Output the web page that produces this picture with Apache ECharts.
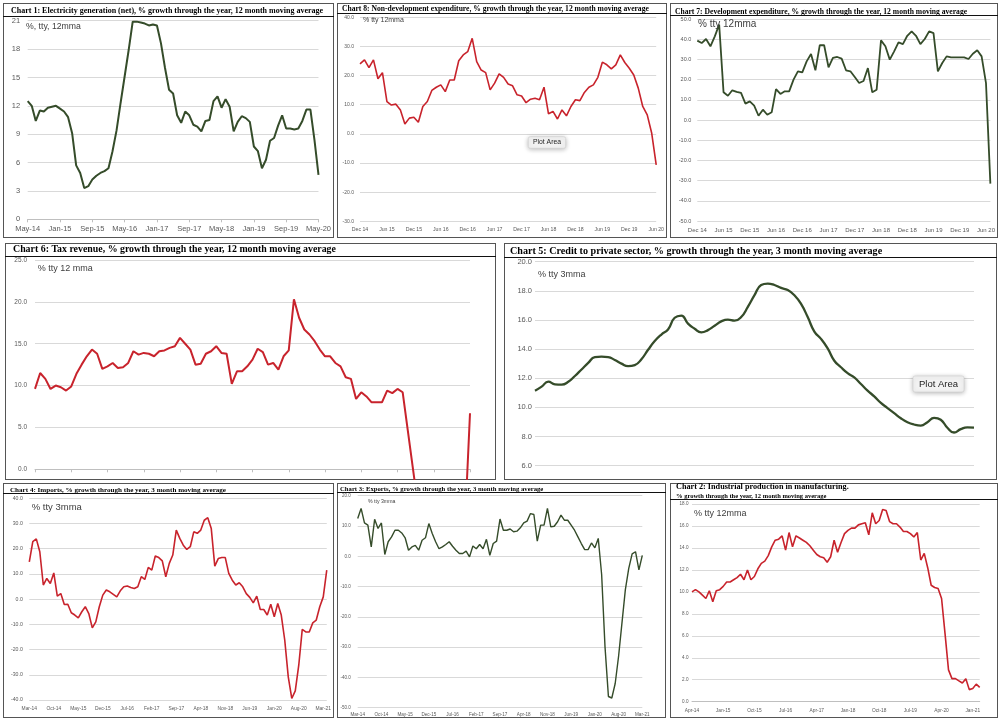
<!DOCTYPE html>
<html><head><meta charset="utf-8">
<script src="https://cdn.jsdelivr.net/npm/echarts/dist/echarts.min.js"></script>
<style>
html,body{margin:0;padding:0;background:#fff;}
body{position:relative;width:1000px;height:720px;overflow:hidden;}
.panel{position:absolute;overflow:hidden;background:#fff;outline:1px solid #555;outline-offset:-1px;}
.rule{position:absolute;left:0;right:0;height:0;border-top:1px solid #111;z-index:5;}
</style></head>
<body>
<script>
// ---------- category helpers (month labels) ----------
const MON = ['Jan','Feb','Mar','Apr','May','Jun','Jul','Aug','Sep','Oct','Nov','Dec'];
function monthLabels(startMon, startYear, count, sep) {
  const out = []; let m = MON.indexOf(startMon), y = startYear;
  for (let i = 0; i < count; i++) {
    out.push(MON[m] + sep + String(y % 100).padStart(2, '0'));
    m++; if (m > 11) { m = 0; y++; }
  }
  return out;
}

// ---------- Chart 1: Electricity generation ----------
const elecCats = monthLabels('May', 2014, 73, '-');
const elecVals = [12.5,12.0,10.4,11.5,11.4,11.8,11.9,12.0,11.7,11.4,
  10.8,9.1,5.7,4.9,3.3,3.5,4.2,4.6,4.9,5.1,
  5.4,7.2,9.4,12.3,15.1,17.9,20.9,20.9,20.8,20.7,
  20.5,20.6,20.5,18.6,16.0,13.7,13.3,11.0,10.2,11.4,
  11.0,10.0,9.8,9.3,10.4,10.5,12.5,13.0,11.8,12.7,
  11.9,9.3,10.3,10.9,10.7,10.3,7.7,7.2,5.4,6.3,
  8.3,8.6,9.9,11.0,9.6,9.6,9.5,9.6,10.4,11.6,
  11.6,8.4,4.7];

// ---------- Chart 8: Non-development expenditure ----------
const nonDevCats = monthLabels('Dec', 2014, 67, ' ');
const nonDevVals = [24.0,25.4,22.7,25.4,18.9,21.0,11.1,9.9,10.2,8.2,
  3.4,5.4,5.7,4.0,9.4,11.1,14.9,16.0,16.8,14.5,
  18.5,18.5,25.1,27.1,28.2,32.8,24.8,21.9,21.0,15.1,
  17.4,20.6,19.4,17.1,16.5,13.4,13.0,10.7,11.9,12.2,
  11.7,16.0,6.9,7.7,5.1,8.2,6.2,9.4,11.7,11.4,
  14.2,16.0,16.8,19.4,24.6,23.7,22.3,23.7,27.1,24.5,
  22.5,20.2,15.7,9.4,6.5,0.2,-10.6];

// ---------- Chart 7: Development expenditure ----------
const devCats = monthLabels('Dec', 2014, 68, ' ');
const devVals = [39.3,38.1,40.1,36.5,41.4,47.2,13.7,12.0,14.7,13.9,
  13.4,8.1,9.2,7.1,2.1,5.1,2.6,3.8,15.3,12.9,
  14.2,14.2,20.0,24.1,23.6,29.0,32.7,24.6,37.1,37.0,
  26.1,30.7,31.2,30.4,24.6,24.1,21.3,18.3,19.3,25.7,
  13.7,15.0,39.4,36.5,29.9,34.0,38.4,37.6,41.7,43.9,
  41.7,37.6,40.1,43.9,43.0,24.1,28.2,31.5,31.0,31.0,
  31.0,31.0,30.2,32.8,34.5,31.5,18.3,-31.5];

// ---------- Chart 6: Tax revenue ----------
const taxCats = monthLabels('Mar', 2014, 85, '-');
const taxVals = [9.6,11.5,10.8,9.6,10.0,9.8,9.4,9.9,11.4,12.5,
  13.5,14.3,13.8,12.0,12.3,12.7,12.1,12.2,12.7,14.1,
  13.7,13.9,13.8,13.5,14.1,14.2,14.5,14.7,15.7,15.0,
  14.3,12.5,12.6,13.8,14.1,14.7,13.9,13.8,10.2,11.7,
  11.7,12.3,13.1,14.4,14.0,12.5,12.7,11.9,13.5,14.2,
  20.3,18.1,16.7,16.1,15.3,14.3,13.5,13.5,12.7,12.3,
  11.0,10.8,8.4,9.2,8.7,8.0,8.0,8.0,9.4,9.1,
  9.6,9.2,4.6,0.0,-4.6,-8.0,-9.0,-9.0,-8.5,-8.0,
  -7.5,-7.5,-7.2,-6.9,6.7];

// ---------- Chart 5: Credit to private sector ----------
const creditCats = monthLabels('Jan', 2015, 67, '-');
const creditVals = [11.14,11.42,11.76,11.58,11.56,11.75,12.15,12.6,13.05,13.45,
  13.48,13.45,13.25,13.0,12.83,12.9,13.3,13.95,14.55,15.0,
  15.35,16.15,16.3,15.75,15.4,15.15,15.3,15.6,15.9,16.02,
  15.95,16.2,16.9,17.7,18.4,18.5,18.4,18.2,18.05,17.7,
  17.1,16.2,15.2,14.7,14.05,13.2,12.75,12.35,12.05,11.6,
  11.15,10.75,10.3,9.95,9.6,9.25,8.98,8.82,8.75,8.98,
  9.28,9.15,8.6,8.27,8.5,8.62,8.61];

// ---------- Chart 4: Imports ----------
const impCats = monthLabels('Mar', 2014, 86, '-');
const impVals = [14.8,22.8,23.9,18.8,5.6,8.2,6.2,10.4,1.2,2.2,
  -2.1,-2.0,-5.4,-6.3,-7.4,-5.0,-3.0,-5.7,-11.4,-9.0,
  -3.0,1.6,3.6,2.9,1.9,0.9,3.3,4.9,5.2,4.6,
  4.2,4.9,8.9,7.8,12.6,11.5,17.1,16.5,15.2,8.9,
  14.2,17.5,27.4,24.1,21.4,19.7,20.8,26.7,26.1,27.4,
  31.3,32.3,28.0,13.1,16.1,16.5,16.5,10.2,7.5,5.6,
  6.5,4.9,2.2,0.7,-1.5,1.2,-4.1,-4.1,-6.3,-2.0,
  -7.0,-1.7,-6.3,-16.3,-30.8,-39.4,-36.4,-26.2,-12.0,-13.0,
  -13.0,-9.4,-8.3,-3.0,0.9,11.5];

// ---------- Chart 3: Exports ----------
const expCats = monthLabels('Mar', 2014, 85, '-');
const expVals = [12.5,15.8,11.0,10.3,3.1,12.2,9.2,11.0,0.6,4.8,
  6.4,8.6,8.6,7.7,6.1,2.0,3.1,3.6,2.0,5.3,
  6.1,10.8,7.5,4.8,2.5,3.1,3.9,4.8,3.3,2.0,
  0.9,0.9,1.7,-0.2,3.4,2.5,3.9,2.5,5.6,0.3,
  4.2,5.0,12.3,8.6,8.6,9.0,8.1,8.3,9.4,11.0,
  11.6,14.1,13.8,5.0,10.3,10.3,15.8,9.7,9.9,11.4,
  13.6,11.9,11.9,10.3,8.6,6.4,4.2,2.2,2.2,4.4,
  2.8,5.9,-6.0,-30.0,-46.3,-46.8,-42.0,-33.0,-22.0,-11.0,
  -4.0,0.8,1.5,-4.5,0.3];

// ---------- Chart 2: Industrial production in manufacturing ----------
const indCats = monthLabels('Apr', 2014, 84, '-');
const indVals = [10.0,10.2,10.0,9.7,9.4,10.1,9.1,10.1,10.2,10.5,
  10.9,10.9,11.1,11.3,11.6,11.1,12.0,11.1,11.4,12.1,
  12.6,12.8,13.3,14.1,14.7,14.8,15.1,13.8,15.4,14.1,
  15.1,14.9,14.7,14.5,14.2,13.8,13.4,13.2,13.1,12.7,
  13.2,14.7,13.6,14.5,15.3,15.6,15.8,15.8,16.1,16.2,
  16.3,15.2,17.2,16.2,16.5,17.5,17.4,16.4,16.2,16.2,
  15.9,15.5,15.5,15.3,15.0,15.4,12.9,13.5,12.2,10.6,
  10.4,10.3,9.4,6.2,2.9,2.1,2.1,1.9,1.7,2.1,
  1.1,1.2,1.6,1.3];

// ---------- styling / layout ----------
const SANS = '"Liberation Sans", Arial, sans-serif';
const SERIF = '"Liberation Serif", "Times New Roman", serif';
const GREEN = '#354c2a';
const RED = '#c8232c';

const panels = [
  { box:[3,3,331,235], rule:13,
    title:{b:'Chart 1: Electricity generation (net),', n:' % growth through the year, 12 month moving average', size:8.0, left:8, cy:8},
    note:{text:'%, tty, 12mma', x:23, y:24, size:8.7},
    grid:{left:24.7, top:17.7, width:302.6, height:198.6},
    cats:elecCats, vals:elecVals, color:GREEN, width:2,
    y:{min:0,max:21,interval:3,dec:0,font:7.5,margin:7.5},
    x:{every:8,font:7.5,margin:6,line:true,ticks:true,onZero:false}},
  { box:[337,3,330,235], rule:10,
    title:{b:'Chart 8: Non-development expenditure,', n:' % growth through the year, 12 month moving average', size:7.6, left:5, cy:6.5},
    note:{text:'% tty 12mma', x:26, y:17, size:7},
    tip:{x:191.3, y:133.7, w:37.4, h:11.6, size:6.8},
    grid:{left:23, top:14.3, width:304, height:204},
    cats:nonDevCats, vals:nonDevVals, color:RED, width:1.6,
    y:{min:-30,max:40,interval:10,dec:1,font:5,margin:6},
    x:{every:6,font:5.2,margin:5.5,line:false,ticks:false,onZero:false}},
  { box:[670,3,328,235], rule:12,
    title:{b:'Chart 7: Development expenditure,', n:' % growth through the year, 12 month moving average', size:7.6, left:5, cy:8.7},
    note:{text:'% tty 12mma', x:28, y:21, size:10},
    grid:{left:27.3, top:16, width:299, height:202},
    cats:devCats, vals:devVals, color:GREEN, width:1.8,
    y:{min:-50,max:50,interval:10,dec:1,font:5.5,margin:6},
    x:{every:6,font:6,margin:6,line:false,ticks:false,onZero:false}},
  { box:[5,243,491,237], chartH:345, rule:13,
    title:{b:'Chart 6: Tax revenue,', n:' % growth through the year, 12 month moving average', size:9.9, left:8, cy:6.5},
    note:{text:'% tty 12 mma', x:32.7, y:26, size:9},
    grid:{left:30, top:17, width:435, height:293},
    cats:taxCats, vals:taxVals, color:RED, width:2,
    y:{min:-10,max:25,interval:5,dec:1,font:6.5,margin:8},
    x:{every:7,font:6,margin:6,line:true,ticks:true,onZero:true,labels:false}},
  { box:[504,243,493,237], chartH:285, rule:14,
    title:{b:'Chart 5: Credit to private sector,', n:' % growth through the year, 3 month moving average', size:10.1, left:6, cy:8.7},
    note:{text:'% tty 3mma', x:34, y:31.7, size:9},
    tip:{x:409, y:133, w:51, h:16, size:9.5},
    grid:{left:31, top:18.7, width:439, height:233},
    cats:creditCats, vals:creditVals, color:GREEN, width:2.3, smooth:true,
    y:{min:4,max:20,interval:2,dec:1,font:7.5,margin:3},
    x:{every:6,font:7,margin:6,line:false,ticks:false,onZero:false}},
  { box:[3,483,331,235], rule:10,
    title:{b:'Chart 4: Imports,', n:' % growth through the year, 3 month moving average', size:7.1, left:7, cy:6.8},
    note:{text:'% tty 3mma', x:28.7, y:24, size:9.5},
    grid:{left:26.3, top:15.3, width:300, height:201.7},
    cats:impCats, vals:impVals, color:RED, width:1.6,
    y:{min:-40,max:40,interval:10,dec:1,font:5.2,margin:6.5},
    x:{every:7,font:4.9,margin:6.5,line:false,ticks:false,onZero:false}},
  { box:[337,483,329,235], rule:9,
    title:{b:'Chart 3: Exports,', n:' % growth through the year, 3 month moving average', size:6.7, left:3, cy:6.3},
    note:{text:'% tty 3mma', x:31, y:19, size:5.2},
    grid:{left:20.7, top:12.7, width:284.6, height:212},
    cats:expCats, vals:expVals, color:GREEN, width:1.4,
    y:{min:-50,max:20,interval:10,dec:1,font:4.5,margin:7},
    x:{every:7,font:4.6,margin:5,line:false,ticks:false,onZero:false}},
  { box:[670,483,328,235], rule:16,
    title:{b:'Chart 2: Industrial production in manufacturing.', n:'% growth through the year, 12 month moving average', size:8.2, size2:6.5, left:6, cy:4.3, twoLine:true},
    note:{text:'% tty 12mma', x:24, y:31, size:9},
    grid:{left:22, top:21, width:287.7, height:197.7},
    cats:indCats, vals:indVals, color:RED, width:1.6,
    y:{min:0,max:18,interval:2,dec:1,font:4.6,margin:3.5},
    x:{every:9,font:4.8,margin:6,line:true,ticks:false,onZero:false}}
];

function build(p) {
  const wrap = document.createElement('div');
  wrap.className = 'panel';
  wrap.style.left = p.box[0] + 'px'; wrap.style.top = p.box[1] + 'px';
  wrap.style.width = p.box[2] + 'px'; wrap.style.height = p.box[3] + 'px';
  const el = document.createElement('div');
  el.style.cssText = 'position:absolute;left:0;top:0;width:' + p.box[2] + 'px;height:' + (p.chartH || p.box[3]) + 'px';
  wrap.appendChild(el);
  const rule = document.createElement('div');
  rule.className = 'rule'; rule.style.top = p.rule + 'px';
  wrap.appendChild(rule);
  document.body.appendChild(wrap);

  const t = p.title;
  const lh = t.size * 1.15;
  let titleText, rich;
  if (t.twoLine) {
    titleText = '{b|' + t.b + '}\n{n|' + t.n + '}';
    rich = { b:{fontFamily:SERIF, fontWeight:'bold', fontSize:t.size, color:'#000', lineHeight:8.7},
             n:{fontFamily:SERIF, fontSize:t.size2, color:'#000', lineHeight:8.7} };
  } else {
    titleText = '{b|' + t.b + '}{n|' + t.n + '}';
    rich = { b:{fontFamily:SERIF, fontWeight:'bold', fontSize:t.size, color:'#000', lineHeight:lh},
             n:{fontFamily:SERIF, fontSize:t.size, color:'#000', lineHeight:lh} };
  }
  const titleTop = t.twoLine ? t.cy - 4.35 : t.cy - lh / 2;

  const graphic = [{
    type:'text', x:p.note.x, y:p.note.y, z:10,
    style:{ text:p.note.text, font:p.note.size + 'px ' + SANS, fill:'#404040',
            textAlign:'left', textVerticalAlign:'middle', align:'left', verticalAlign:'middle' }
  }];
  if (p.tip) {
    const tp = p.tip;
    graphic.push({ type:'rect', z:20, shape:{x:tp.x, y:tp.y, width:tp.w, height:tp.h, r:2},
      style:{ fill:'#f3f3f3', stroke:'#cfcfcf', lineWidth:0.6, shadowBlur:5, shadowColor:'rgba(0,0,0,0.28)', shadowOffsetY:1 } });
    graphic.push({ type:'text', z:21, x:tp.x + tp.w / 2, y:tp.y + tp.h / 2,
      style:{ text:'Plot Area', font:tp.size + 'px ' + SANS, fill:'#222',
              textAlign:'center', textVerticalAlign:'middle', align:'center', verticalAlign:'middle' } });
  }

  const chart = echarts.init(el, null, { renderer:'canvas' });
  chart.setOption({
    animation:false,
    backgroundColor:'transparent',
    title:{ text:titleText, left:t.left, top:titleTop, padding:0, itemGap:0, textStyle:{ rich:rich } },
    grid:{ left:p.grid.left, top:p.grid.top, width:p.grid.width, height:p.grid.height, containLabel:false },
    xAxis:{
      type:'category', data:p.cats, boundaryGap:false,
      axisLine:{ show:p.x.line, onZero:p.x.onZero, lineStyle:{ color:'#bfbfbf', width:1 } },
      axisTick:{ show:p.x.ticks, interval:p.x.every - 1, length:3, lineStyle:{ color:'#bfbfbf' } },
      axisLabel:{ show:p.x.labels !== false, interval:p.x.every - 1, fontSize:p.x.font, color:'#595959',
                  fontFamily:SANS, margin:p.x.margin, hideOverlap:false },
      splitLine:{ show:false }
    },
    yAxis:{
      type:'value', min:p.y.min, max:p.y.max, interval:p.y.interval,
      axisLine:{ show:false }, axisTick:{ show:false },
      axisLabel:{ fontSize:p.y.font, color:'#595959', fontFamily:SANS, margin:p.y.margin,
                  formatter:function (v) { return v.toFixed(p.y.dec); } },
      splitLine:{ lineStyle:{ color:'#d9d9d9', width:1 } }
    },
    series:[{
      type:'line', data:p.vals, showSymbol:false, smooth:!!p.smooth, clip:true,
      lineStyle:{ color:p.color, width:p.width }, itemStyle:{ color:p.color }
    }],
    graphic:graphic
  });
}

panels.forEach(build);
</script>
</body></html>
